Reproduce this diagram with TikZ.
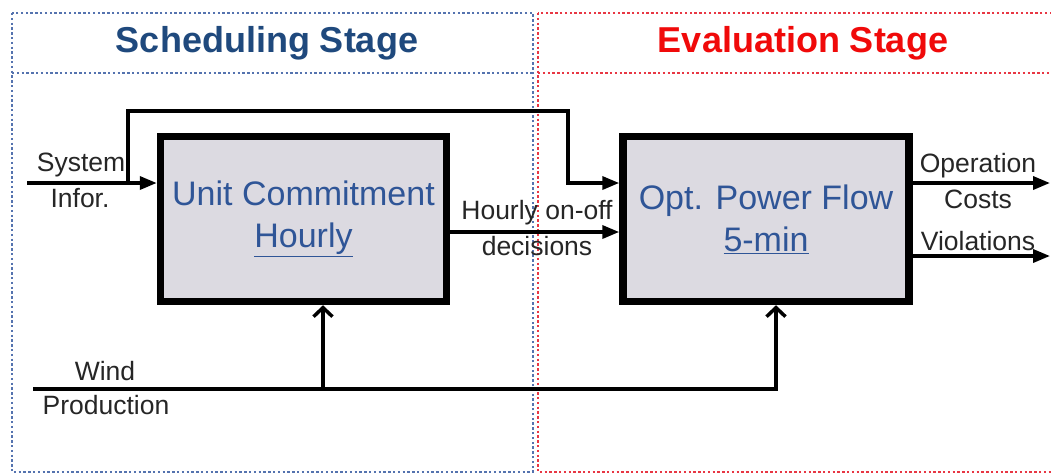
\documentclass[tikz,border=0pt]{standalone}
\usepackage{fontspec}
\setmainfont{Liberation Sans}
\usetikzlibrary{arrows.meta}
\definecolor{titleblue}{RGB}{31,73,125}
\definecolor{boxblue}{RGB}{47,85,151}
\definecolor{titlered}{RGB}{240,10,10}
\definecolor{dotblue}{RGB}{85,115,175}
\definecolor{dotred}{RGB}{232,55,68}
\definecolor{boxfill}{RGB}{220,218,225}
\tikzset{
  frameblue/.style={draw=dotblue, line width=2.6pt, dash pattern=on 2.4pt off 2.4pt},
  framered/.style={draw=dotred, line width=2.6pt, dash pattern=on 2.4pt off 2.4pt},
  stagetitle/.style={font=\bfseries\fontsize{36}{40}\selectfont, inner sep=0pt},
  blockbox/.style={draw=black, line width=7.5pt, fill=boxfill, minimum width=286pt, minimum height=165pt,
    align=center, text=boxblue, font=\fontsize{34}{42}\selectfont, inner sep=0pt},
  lbl/.style={font=\fontsize{26.5}{26}\selectfont, inner sep=0pt, text=black!85},
  wire/.style={draw=black, line width=3.5pt},
  fwd/.style={wire, -{Triangle[length=17pt,width=13pt]}},
  up/.style={wire, -{Straight Barb[length=9pt,width=19pt,line width=3.5pt]}},
}
\begin{document}
\begin{tikzpicture}[x=1pt,y=-1pt]
\clip (0,0) rectangle (1051,475);
\fill[white] (0,0) rectangle (1051,475);
% frames
\draw[frameblue] (12,13) rectangle (533,472);
\draw[frameblue] (12,73) -- (533,73);
\draw[framered] (538,13) rectangle (1080,472);
\draw[framered] (538,73) -- (1080,73);
\node[stagetitle, text=titleblue] (t1) at (267,43) {Scheduling Stage};
\node[stagetitle, text=titlered] (t2) at (803,43) {Evaluation Stage};
% blocks
\node[blockbox] (uc) at (303.5,219) {Unit Commitment\\\underline{Hourly}};
\node[blockbox] (opf) at (766,219) {Opt. Power Flow\\\underline{5-min}};
% system information
\coordinate (sysin) at (27,183);
\coordinate (branch) at (128,183);
\coordinate (loopA) at (128,111);
\coordinate (loopB) at (568,111);
\coordinate (loopC) at (568,183);
\draw[fwd] (sysin) -- (uc.west |- sysin);
\draw[fwd] (branch) -- (loopA) -- (loopB) -- (loopC) -- (opf.west |- loopC);
\node[lbl] (sys1) at (81,165) {System};
\node[lbl] (sys2) at (80,198) {Infor.};
% hourly decisions
\coordinate (hd) at (450,232);
\draw[fwd] (uc.east |- hd) -- (opf.west |- hd);
\node[lbl] (hd1) at (537,213) {Hourly on-off};
\node[lbl] (hd2) at (537,246) {decisions};
% outputs
\coordinate (out1) at (1050,183);
\coordinate (out2) at (1050,256);
\draw[fwd] (opf.east |- out1) -- (out1);
\draw[fwd] (opf.east |- out2) -- (out2);
\node[lbl] (o1) at (978,166) {Operation};
\node[lbl] (o2) at (978,199) {Costs};
\node[lbl] (o3) at (978,241) {Violations};
% wind
\coordinate (wind) at (33,389);
\coordinate (wbranch) at (323,389);
\coordinate (wcorner) at (776,389);
\draw[up] (wind) -- (wcorner) -- (wcorner |- opf.south);
\draw[up] (wbranch) -- (wbranch |- uc.south);
\node[lbl] (w1) at (105,371) {Wind};
\node[lbl] (w2) at (106,405) {Production};
\end{tikzpicture}
\end{document}
